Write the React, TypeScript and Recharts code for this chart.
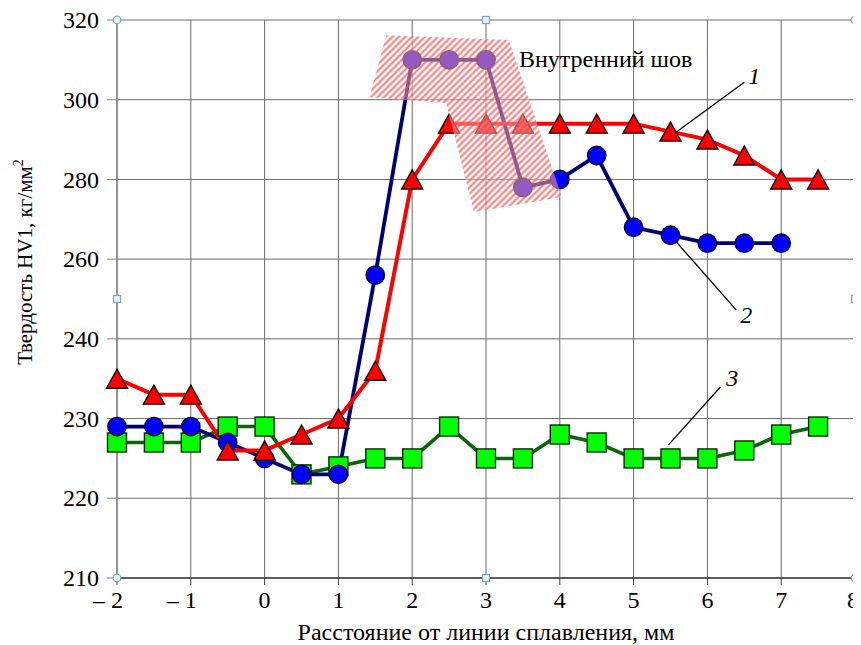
import React from 'react';
import {
  ComposedChart,
  Line,
  Scatter,
  XAxis,
  YAxis,
  CartesianGrid,
  ReferenceDot,
  ReferenceLine,
  Label,
} from 'recharts';

// ---- data ----
const distances = [-2, -1.5, -1, -0.5, 0, 0.5, 1, 1.5, 2, 2.5, 3, 3.5, 4, 4.5, 5, 5.5, 6, 6.5, 7, 7.5];
const hardness1 = [235, 233, 233, 226, 226, 228, 230, 236, 280, 294, 294, 294, 294, 294, 294, 292, 290, 286, 280, 280];
const hardness2: (number | null)[] = [229, 229, 229, 227, 225, 223, 223, 256, 310, 310, 310, 278, 280, 286, 268, 266, 264, 264, 264, null];
const hardness3 = [227, 227, 227, 229, 229, 223, 224, 225, 225, 229, 225, 225, 228, 227, 225, 225, 225, 226, 228, 229];

const xTicks = [-2, -1, 0, 1, 2, 3, 4, 5, 6, 7, 8];
// the value axis is broken: evenly spaced labels with unequal steps
const yTickLabels = [210, 220, 230, 240, 260, 280, 300, 320];

// hatched "inner seam" zone (distance, hardness)
const seamZoneX = [1.649, 3.311, 4.027, 2.838, 2.459, 1.419];
const seamZoneV = [316.2, 315, 275.6, 271.8, 299.2, 300.6];

// leader lines for curve numbers: [x1, v1, x2, v2]
const leader1 = [6.5, 304.4, 5.58, 291.9];
const leader2 = [5.58, 264.3, 6.392, 247.2];
const leader3 = [6.176, 233.96, 5.473, 226.7];
const curveLabels = [
  { text: '1', x: 6.554, v: 303.9 },
  { text: '2', x: 6.446, v: 244.0 },
  { text: '3', x: 6.257, v: 234.1 },
];
const zoneTitle = { text: 'Внутренний шов', x: 3.446, v: 308.2 };

// selection handles of the plot frame (distance, axis-position)
const handleCircles = [
  [-2, 0], [8, 0], [-2, 7], [8, 7],
];
const handleSquares = [
  [3, 0], [3, 7], [-2, 3.5], [8, 3.5],
];

// ---- helpers ----
const toPos = (v: number) => {
  const n = yTickLabels.length;
  for (let i = 0; i < n - 1; i++) {
    const a = yTickLabels[i];
    const b = yTickLabels[i + 1];
    if (v <= b || i === n - 2) return i + (v - a) / (b - a);
  }
  return 0;
};

const chartData = distances.map((x, i) => ({
  x,
  p1: toPos(hardness1[i]),
  p2: hardness2[i] == null ? null : toPos(hardness2[i] as number),
  p3: toPos(hardness3[i]),
}));

const seamData = seamZoneX.map((x, i) => ({ x, y: toPos(seamZoneV[i]) }));

const SERIF = '"Liberation Serif", "Times New Roman", Times, serif';

const TriangleDot = (props: any) => {
  const { cx, cy, index } = props;
  if (cx == null || cy == null || isNaN(cy)) return <g key={`t${index}`} />;
  return (
    <polygon
      key={`t${index}`}
      points={`${cx},${cy - 9.5} ${cx - 10.5},${cy + 9.5} ${cx + 10.5},${cy + 9.5}`}
      fill="#ff0000"
      stroke="#1a0000"
      strokeWidth={1.4}
    />
  );
};

const CircleDot = (props: any) => {
  const { cx, cy, index } = props;
  if (cx == null || cy == null || isNaN(cy)) return <g key={`c${index}`} />;
  return <circle key={`c${index}`} cx={cx} cy={cy} r={9.2} fill="#0000ff" stroke="#000033" strokeWidth={1.4} />;
};

const SquareDot = (props: any) => {
  const { cx, cy, index } = props;
  if (cx == null || cy == null || isNaN(cy)) return <g key={`s${index}`} />;
  return (
    <rect
      key={`s${index}`}
      x={cx - 9.5}
      y={cy - 9.5}
      width={19}
      height={19}
      fill="#00ff00"
      stroke="#0a260a"
      strokeWidth={1.4}
    />
  );
};

const hatchLine = (props: any) => {
  const pts = props && props.points ? props.points : [];
  if (!pts.length) return <g />;
  const str = pts.map((p: any) => `${p.x},${p.y}`).join(' ');
  return (
    <g>
      <defs>
        <pattern
          id="seamHatch"
          patternUnits="userSpaceOnUse"
          width={4.6}
          height={4.6}
          patternTransform="rotate(45)"
        >
          <line x1={2.3} y1={-1} x2={2.3} y2={5.6} stroke="#ff3c3c" strokeWidth={1.9} strokeOpacity={0.72} />
        </pattern>
      </defs>
      <polygon points={str} fill="#ffffff" fillOpacity={0.4} stroke="none" />
      <polygon points={str} fill="url(#seamHatch)" stroke="none" />
    </g>
  );
};

const XTick = (props: any) => {
  const { x, y, payload } = props;
  const v = payload.value as number;
  const neg = v < 0;
  const last = v === xTicks[xTicks.length - 1];
  return (
    <text
      x={neg ? x + 6 : last ? x + 4 : x}
      y={y}
      dy="0.78em"
      textAnchor={neg || last ? 'end' : 'middle'}
      fill="#000"
      fontSize={24}
      fontFamily={SERIF}
    >
      {neg ? `\u2013 ${Math.abs(v)}` : String(v)}
    </text>
  );
};

const YTick = (props: any) => {
  const { x, y, payload } = props;
  return (
    <text x={x} y={y} dy="0.34em" textAnchor="end" fill="#000" fontSize={24} fontFamily={SERIF}>
      {String(yTickLabels[Math.round(payload.value)])}
    </text>
  );
};

const YTitle = (props: any) => {
  const vb = props.viewBox || { x: 0, y: 12, width: 109, height: 558 };
  const cx = vb.x + 24;
  const cy = vb.y + vb.height / 2 - 37;
  return (
    <text
      x={cx}
      y={cy}
      transform={`rotate(-90, ${cx}, ${cy})`}
      textAnchor="middle"
      fill="#000"
      fontSize={21}
      fontFamily={SERIF}
    >
      Твердость HV1, кг/мм
      <tspan dy={-9} fontSize={14}>2</tspan>
    </text>
  );
};

const XTitle = (props: any) => {
  const vb = props.viewBox || { x: 109, y: 570, width: 740, height: 30 };
  const cx = vb.x + vb.width / 2;
  const cy = vb.y + 62;
  return (
    <text x={cx} y={cy} textAnchor="middle" fill="#000" fontSize={24} fontFamily={SERIF}>
      Расстояние от линии сплавления, мм
    </text>
  );
};

const HandleCircle = (props: any) => (
  <circle cx={props.cx} cy={props.cy} r={3.8} fill="#e4eff6" stroke="#7fa6bf" strokeWidth={1.2} />
);
const HandleSquare = (props: any) => (
  <rect x={props.cx - 3.5} y={props.cy - 3.5} width={7} height={7} fill="#e4eff6" stroke="#7fa6bf" strokeWidth={1.2} />
);

export default function App() {
  return (
    <div style={{ width: 853, height: 637, fontFamily: SERIF }}>
      <ComposedChart
        width={853}
        height={637}
        data={chartData}
        margin={{ top: 12, right: 6, left: 0, bottom: 37 }}
        style={{ fontFamily: SERIF }}
      >
        <CartesianGrid stroke="#6a6a6a" strokeWidth={1} />
        <XAxis
          dataKey="x"
          type="number"
          domain={[-2, 8]}
          ticks={xTicks}
          height={30}
          tickSize={7}
          tickMargin={4}
          tick={<XTick />}
          axisLine={{ stroke: '#404040', strokeWidth: 1.5 }}
          tickLine={{ stroke: '#404040' }}
          label={<Label content={<XTitle />} />}
        />
        <YAxis
          type="number"
          domain={[0, 7]}
          ticks={[0, 1, 2, 3, 4, 5, 6, 7]}
          width={109}
          tickSize={10}
          tickMargin={8}
          tick={<YTick />}
          axisLine={{ stroke: '#808080', strokeWidth: 1.3 }}
          tickLine={{ stroke: '#808080' }}
          label={<Label content={<YTitle />} />}
        />

        <Line
          dataKey="p3"
          stroke="#0b650b"
          strokeWidth={3.6}
          dot={SquareDot}
          activeDot={false}
          isAnimationActive={false}
        />
        <Line
          dataKey="p2"
          stroke="#000072"
          strokeWidth={3.8}
          dot={CircleDot}
          activeDot={false}
          isAnimationActive={false}
        />
        <Line
          dataKey="p1"
          stroke="#ff0000"
          strokeWidth={4}
          dot={TriangleDot}
          activeDot={false}
          isAnimationActive={false}
        />

        <Scatter
          data={seamData}
          dataKey="y"
          shape={() => <g />}
          line={hatchLine}
          lineType="joint"
          isAnimationActive={false}
        />

        {[leader1, leader2, leader3].map((l, i) => (
          <ReferenceLine
            key={`ld${i}`}
            segment={[
              { x: l[0], y: toPos(l[1]) },
              { x: l[2], y: toPos(l[3]) },
            ]}
            stroke="#000"
            strokeWidth={1.3}
            ifOverflow="visible"
          />
        ))}

        {curveLabels.map((c, i) => (
          <ReferenceDot
            key={`cl${i}`}
            x={c.x}
            y={toPos(c.v)}
            r={0}
            ifOverflow="visible"
            shape={(p: any) => (
              <text x={p.cx} y={p.cy} fill="#000" fontSize={24} fontStyle="italic" fontFamily={SERIF}>
                {c.text}
              </text>
            )}
          />
        ))}

        <ReferenceDot
          x={zoneTitle.x}
          y={toPos(zoneTitle.v)}
          r={0}
          ifOverflow="visible"
          shape={(p: any) => (
            <text x={p.cx} y={p.cy} fill="#000" fontSize={24} fontFamily={SERIF}>
              {zoneTitle.text}
            </text>
          )}
        />

        {handleCircles.map((h, i) => (
          <ReferenceDot key={`hc${i}`} x={h[0]} y={h[1]} r={4} ifOverflow="visible" shape={HandleCircle} />
        ))}
        {handleSquares.map((h, i) => (
          <ReferenceDot key={`hs${i}`} x={h[0]} y={h[1]} r={4} ifOverflow="visible" shape={HandleSquare} />
        ))}
      </ComposedChart>
    </div>
  );
}
